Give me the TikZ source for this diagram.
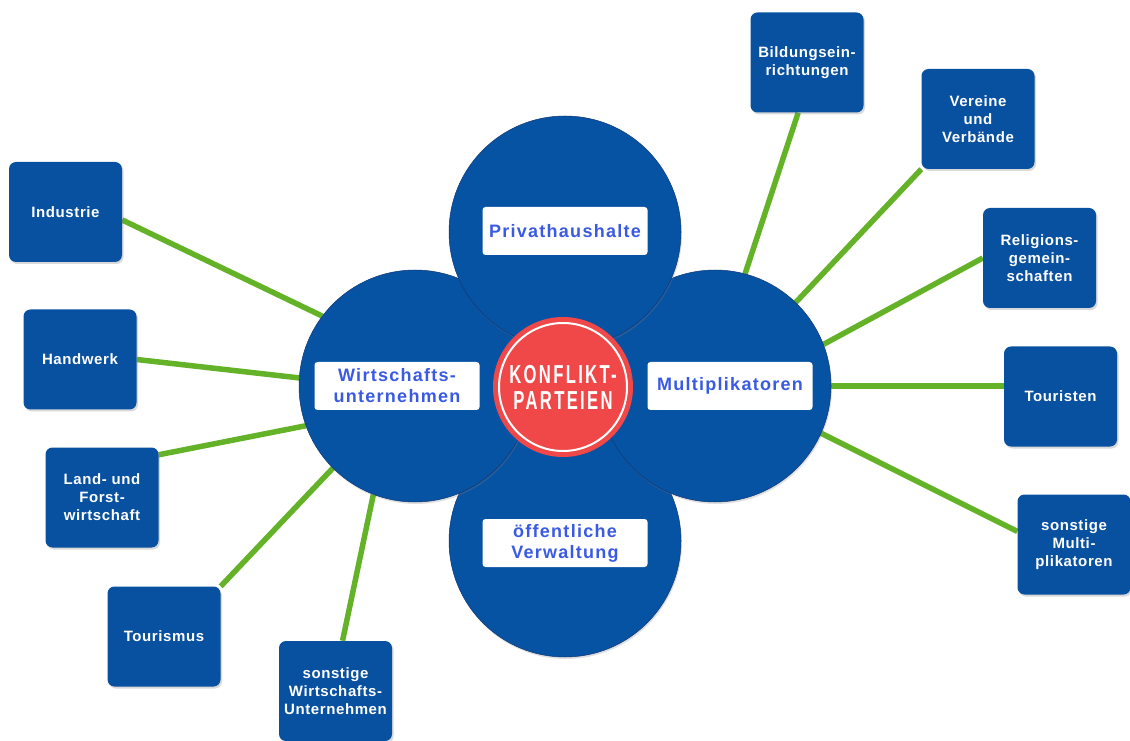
\documentclass[tikz,border=0pt]{standalone}
\usepackage{fontspec}
\setmainfont{Liberation Sans}
\newfontfamily\memberfont[LetterSpace=4]{Liberation Sans}
\newfontfamily\labelfont[LetterSpace=7]{Liberation Sans}
\newfontfamily\konffont[FakeStretch=0.64,LetterSpace=9]{Liberation Sans}
\usetikzlibrary{shadows,backgrounds}

\definecolor{circleblue}{RGB}{6,82,163}
\definecolor{boxblue}{RGB}{8,80,160}
\definecolor{edgeblue}{RGB}{16,55,115}
\definecolor{linkgreen}{RGB}{100,178,40}
\definecolor{konfred}{RGB}{240,72,72}
\definecolor{labelblue}{RGB}{58,90,228}

\tikzstyle{group}=[circle,fill=circleblue,draw=edgeblue,line width=0.5pt,minimum size=232pt,inner sep=0pt,
    drop shadow={shadow xshift=1pt,shadow yshift=-2pt,opacity=0.25}]
\tikzstyle{grouplabel}=[rectangle,rounded corners=3pt,fill=white,minimum width=165pt,minimum height=48pt,inner sep=0pt,
    align=center,text=labelblue,font=\labelfont\bfseries\fontsize{18}{21}\selectfont]
\tikzstyle{member}=[rectangle,rounded corners=7pt,fill=boxblue,minimum width=113pt,minimum height=100pt,inner sep=0pt,
    align=center,text=white,font=\memberfont\bfseries\fontsize{15}{18}\selectfont,
    drop shadow={shadow xshift=1.5pt,shadow yshift=-2pt,opacity=0.3}]
\tikzstyle{core}=[circle,fill=konfred,draw=white,line width=2pt,minimum size=128pt,inner sep=0pt,
    preaction={draw=konfred,line width=12pt},align=center,text=white,font=\konffont\bfseries\fontsize{26}{26}\selectfont]
\tikzstyle{link}=[draw=linkgreen,line width=5.5pt]

\begin{document}
\begin{tikzpicture}[x=1pt,y=1pt]
    \useasboundingbox (0,0) rectangle (1130,740);
    %Group circles
    \node[group] (verw) at (565,199) {};
    \node[group] (wirt) at (415,354) {};
    \node[group] (mult) at (715,354) {};
    \node[group] (priv) at (565,508) {};
    \node[core] (konf) at (563,353) {KONFLIKT-\\PARTEIEN};
    %Group labels
    \node[grouplabel] (privlbl) at (565,509) {Privathaushalte};
    \node[grouplabel] (wirtlbl) at (397,354) {Wirtschafts-\\unternehmen};
    \node[grouplabel] (multlbl) at (730,354) {Multiplikatoren};
    \node[grouplabel] (verwlbl) at (565,197) {öffentliche\\Verwaltung};
    %Member boxes
    \foreach \pos/\name/\txt in {{(65.5,528)/ind/Industrie}, {(80,380.5)/hand/Handwerk},
                                 {(102,242.5)/land/Land- und\\Forst-\\wirtschaft}, {(164,103.5)/tour/Tourismus},
                                 {(335.5,49)/sw/sonstige\\Wirtschafts-\\Unternehmen},
                                 {(807,677.5)/bild/Bildungsein-\\richtungen}, {(978,621)/ver/Vereine\\und\\Verbände},
                                 {(1039.5,482)/rel/Religions-\\gemein-\\schaften}, {(1060.5,343.5)/tourist/Touristen},
                                 {(1074,195.5)/sm/sonstige\\Multi-\\plikatoren}}
    \node[member] (\name) at \pos {\txt};
    %Links
    \begin{scope}[on background layer]
        \draw[link] (ind.-8) -- (wirt.143);
        \draw[link] (hand.east) -- (wirt.176);
        \draw[link] (land.37) -- (wirt.200);
        \draw[link] (tour.north east) -- (wirt.225);
        \draw[link] (sw.82) -- (wirt.249);
        \draw[link] (bild.260) -- (mult.75);
        \draw[link] (ver.south west) -- (mult.46);
        \draw[link] (rel.west) -- (mult.21);
        \draw[link] (mult.east) -- (mult.east -| tourist.west);
        \draw[link] (sm.167) -- (mult.336);
    \end{scope}
\end{tikzpicture}
\end{document}
